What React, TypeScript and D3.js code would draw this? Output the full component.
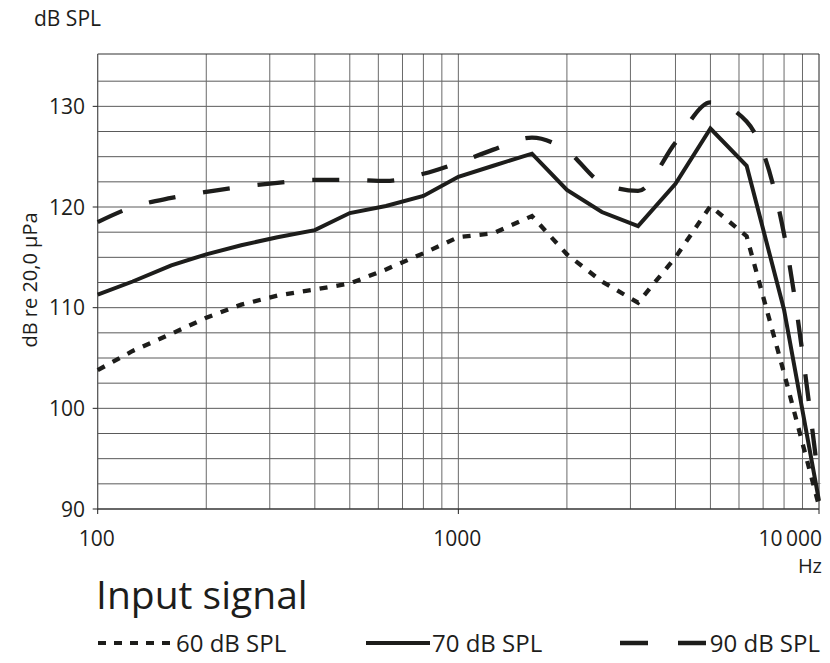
import React from 'react';
import * as d3 from 'd3';

// 1/3-octave frequencies (Hz) and output level (dB SPL) per input signal
const freqs = [100, 125, 160, 200, 250, 315, 400, 500, 630, 800, 1000, 1250, 1600, 2000, 2500, 3150, 4000, 5000, 6300, 8000, 10000];
const spl60 = [103.8, 105.7, 107.4, 109.0, 110.3, 111.2, 111.8, 112.4, 113.8, 115.4, 117.0, 117.4, 119.1, 115.3, 112.6, 110.5, 115.0, 120.1, 117.1, 103.5, 90.3];
const spl70 = [111.3, 112.6, 114.2, 115.3, 116.2, 117.0, 117.7, 119.4, 120.1, 121.1, 123.0, 124.1, 125.3, 121.7, 119.5, 118.1, 122.3, 127.8, 124.1, 109.8, 90.8];
const spl90 = [118.5, 120.0, 120.9, 121.5, 122.0, 122.4, 122.7, 122.7, 122.6, 123.3, 124.4, 125.7, 126.9, 125.6, 122.4, 121.6, 126.4, 130.4, 128.5, 117.3, 92.5];

const yTicks = [90, 100, 110, 120, 130];
const xTicks = [100, 1000, 10000];
const xTickLabels = ['100', '1000', '10\u2009000'];

const width = 830;
const height = 663;
const font = '"Open Sans", "DejaVu Sans", sans-serif';
const ink = '#1d1d1b';

const x = d3.scaleLog().domain([100, 10000]).range([97.7, 819]);
const y = d3.scaleLinear().domain([90, 135.2]).range([509, 54]);

const gridFreqs = d3.range(2, 5).flatMap(e => d3.range(1, 10).map(m => m * Math.pow(10, e))).filter(f => f <= 10000).concat([10000]);
const gridLevels = d3.range(90, 135, 2.5);

const makeLine = (vals: number[], curve: d3.CurveFactory) =>
  d3.line<number>()
    .x((_, i) => x(freqs[i]))
    .y(v => y(v))
    .curve(curve)(vals) as string;

export default function App() {
  const left = x.range()[0];
  const right = x.range()[1];
  const top = y.range()[1];
  const bottom = y.range()[0];

  return (
    <svg width={width} height={height} style={{ position: 'absolute', left: 0, top: 0, background: '#fff' }} fontFamily={font}>
      <rect width={width} height={height} fill="#fff" />

      {/* grid */}
      {gridLevels.map(l => (
        <line key={'h' + l} x1={left} x2={right} y1={y(l)} y2={y(l)} stroke="#5a5a5a" strokeWidth={1} />
      ))}
      {gridFreqs.map(f => (
        <line key={'v' + f} x1={x(f)} x2={x(f)} y1={top} y2={bottom} stroke="#6a6a6a" strokeWidth={1} />
      ))}
      <line x1={left} x2={right} y1={top} y2={top} stroke="#333" strokeWidth={1.2} />
      <line x1={left} x2={left} y1={top} y2={bottom} stroke="#555" strokeWidth={1} />
      <line x1={left} x2={right} y1={bottom} y2={bottom} stroke="#222" strokeWidth={1.2} />

      {/* y ticks */}
      {yTicks.map(t => (
        <g key={'yt' + t}>
          <line x1={left - 5} x2={left} y1={y(t)} y2={y(t)} stroke="#222" />
          <text x={85} y={y(t)} dy="0.36em" textAnchor="end" fontSize={21} fill={ink}>{t}</text>
        </g>
      ))}

      {/* x ticks */}
      {xTicks.map((t, i) => (
        <g key={'xt' + t}>
          <line x1={x(t)} x2={x(t)} y1={bottom} y2={bottom + 5} stroke="#222" />
          <text x={i === 2 ? 822 : x(t) - 1} y={546} textAnchor={i === 2 ? 'end' : 'middle'} fontSize={21} fill={ink}>{xTickLabels[i]}</text>
        </g>
      ))}
      <text x={822} y={573} textAnchor="end" fontSize={20} fill={ink}>Hz</text>

      <text x={34} y={26} fontSize={21} fill={ink}>dB SPL</text>
      <text transform={`translate(37,${280}) rotate(-90)`} textAnchor="middle" fontSize={20} fill={ink}>dB re 20,0 µPa</text>

      {/* curves */}
      <path d={makeLine(spl90, d3.curveMonotoneX)} fill="none" stroke={ink} strokeWidth={4.3} strokeDasharray="27,28" />
      <path d={makeLine(spl70, d3.curveLinear)} fill="none" stroke={ink} strokeWidth={4} />
      <path d={makeLine(spl60, d3.curveLinear)} fill="none" stroke={ink} strokeWidth={4.3} strokeDasharray="8,9" />

      {/* legend */}
      <text x={96} y={609} fontSize={39} fill={ink}>Input signal</text>
      <line x1={98} x2={170} y1={643} y2={643} stroke={ink} strokeWidth={4} strokeDasharray="8,8" />
      <text x={176} y={652} fontSize={24} fill={ink}>60 dB SPL</text>
      <line x1={366} x2={430} y1={643} y2={643} stroke={ink} strokeWidth={4} />
      <text x={432} y={652} fontSize={24} fill={ink}>70 dB SPL</text>
      <line x1={620} x2={706} y1={643} y2={643} stroke={ink} strokeWidth={4.3} strokeDasharray="28,30" />
      <text x={820} y={652} textAnchor="end" fontSize={24} fill={ink}>90 dB SPL</text>
    </svg>
  );
}
